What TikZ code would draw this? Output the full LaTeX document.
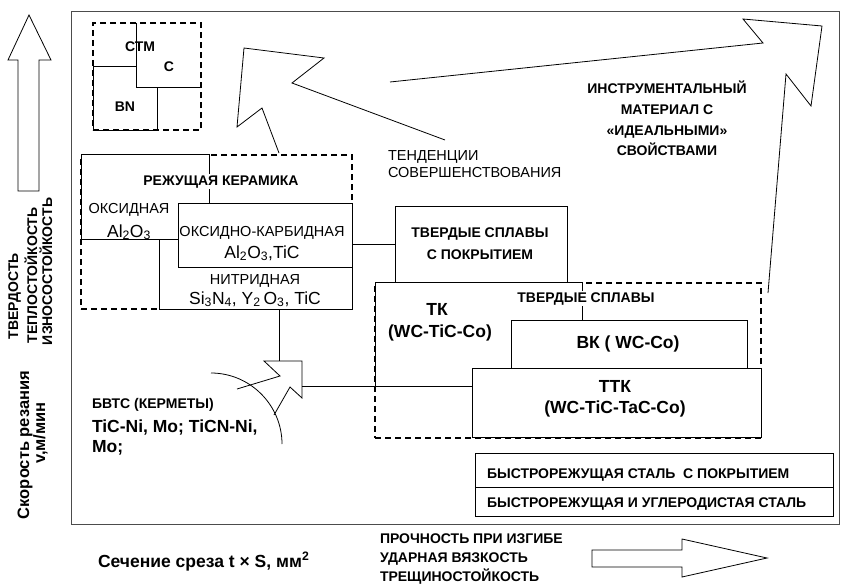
\documentclass[tikz,border=0pt]{standalone}
\usepackage{fontspec}
\setmainfont{Liberation Sans}
\begin{document}
\begin{tikzpicture}[x=1pt,y=-1pt,
  every node/.style={inner sep=0pt, outer sep=0pt},
  bx/.style={draw, fill=white, line width=0.9pt, rectangle, anchor=north west},
  dsh/.style={draw, line width=1.3pt, dash pattern=on 6pt off 4pt, rectangle, anchor=north west},
  lb/.style={font=\fontsize{14}{16}\selectfont\bfseries},
  rg/.style={font=\fontsize{14.5}{17}\selectfont},
  ch/.style={font=\fontsize{17.5}{20}\selectfont},
  bg/.style={font=\fontsize{17.5}{20}\selectfont\bfseries},
  ln/.style={line width=0.9pt},
  thin/.style={line width=0.8pt, line join=miter}
]
\useasboundingbox (0,0) rectangle (843,586);
% frame
\node[bx, draw=black!70, fill=none, minimum width=768pt, minimum height=513pt] (frame) at (71,11) {};
% left vertical arrow and labels
\draw[thin] (18,191) -- (18,60) -- (8,60) -- (29,15) -- (51,60) -- (39,60) -- (39,191) -- cycle;
\node[lb, rotate=90, anchor=base west] (tv1) at (18,339) {ТВЕРДОСТЬ};
\node[lb, rotate=90, anchor=base west] (tv2) at (37,343) {ТЕПЛОСТОЙКОСТЬ};
\node[lb, rotate=90, anchor=base west] (tv3) at (52,345) {ИЗНОСОСТОЙКОСТЬ};
\node[font=\fontsize{16.5}{19}\selectfont\bfseries, rotate=90, anchor=base] (tsp1) at (29,445) {Скорость резания};
\node[font=\fontsize{16.5}{19}\selectfont\bfseries, rotate=90, anchor=base] (tsp2) at (45,433) {v,м/мин};
% CTM block
\node[bx, minimum width=64pt, minimum height=64pt] (bn) at (93,66) {};
\node[anchor=north west, fill=white, minimum width=65pt, minimum height=64pt] (cbox) at (136,23) {};
\draw[ln] (cbox.north west) -- (cbox.south west) -- (cbox.south east);
\node[dsh, minimum width=108pt, minimum height=107pt] (ctm) at (93,23) {};
\node[lb, anchor=base] (tctm) at (140,52) {СТМ};
\node[lb, anchor=base] (tc) at (169,71) {С};
\node[lb, anchor=base] (tbn) at (125,111) {BN};
% ceramics
\node[dsh, minimum width=271pt, minimum height=154pt] (ceram) at (81,155) {};
\node[bx, minimum width=193pt, minimum height=70pt] (nitr) at (159,239) {};
\node[bx, minimum width=128pt, minimum height=85pt] (oxide) at (81,154) {};
\node[lb, anchor=base, fill=white, inner sep=1.5pt] (tceram) at (221,185) {РЕЖУЩАЯ КЕРАМИКА};
\node[bx, minimum width=174pt, minimum height=64pt] (oxcarb) at (178,203) {};
\node[rg, anchor=base] (toxide) at (129,213) {ОКСИДНАЯ};
\node[ch, anchor=base] (toxidef) at (129,237) {Al\textsubscript{2}O\textsubscript{3}};
\node[rg, anchor=base] (toxc) at (262,236) {ОКСИДНО-КАРБИДНАЯ};
\node[ch, anchor=base] (toxcf) at (262,258) {Al\textsubscript{2}O\textsubscript{3},TiC};
\node[rg, anchor=base] (tnitr) at (255,284) {НИТРИДНАЯ};
\node[ch, anchor=base] (tnitrf) at (255,304) {Si\textsubscript{3}N\textsubscript{4}, Y\textsubscript{2}\,O\textsubscript{3}, TiC};
% trend arrows
\draw[thin] (279,153) -- (262,108) -- (237,127) -- (244,48) -- (324,58) -- (292,83) -- (445,140);
\draw[thin] (390,82) -- (763,43) -- (743,19) -- (822,26) -- (811,106) -- (786,74) -- (768,293);
\node[rg, anchor=base west] (ttend1) at (388,160) {ТЕНДЕНЦИИ};
\node[rg, anchor=base west] (ttend2) at (388,177) {СОВЕРШЕНСТВОВАНИЯ};
\node[lb, anchor=base] (tid1) at (667,93) {ИНСТРУМЕНТАЛЬНЫЙ};
\node[lb, anchor=base] (tid2) at (667,114) {МАТЕРИАЛ С};
\node[lb, anchor=base] (tid3) at (667,135) {«ИДЕАЛЬНЫМИ»};
\node[lb, anchor=base] (tid4) at (667,155) {СВОЙСТВАМИ};
% coated hard alloys
\node[bx, minimum width=172pt, minimum height=76pt] (coat) at (395,206) {};
\node[lb, anchor=base] (tcoat1) at (480,237) {ТВЕРДЫЕ СПЛАВЫ};
\node[lb, anchor=base] (tcoat2) at (480,259) {С ПОКРЫТИЕМ};
\draw[ln] (oxcarb.east |- coat.west) -- (coat.west);
% hard alloys
\node[dsh, minimum width=386pt, minimum height=155pt] (tkd) at (375,283) {};
\node[bx, minimum width=207pt, minimum height=104pt] (tk) at (375,282) {};
\node[lb, anchor=base, fill=white, inner sep=1.5pt] (thard) at (586,302) {ТВЕРДЫЕ СПЛАВЫ};
\node[bx, minimum width=236pt, minimum height=48pt] (vk) at (511,320) {};
\node[bx, minimum width=289pt, minimum height=69pt] (ttk) at (472,368) {};
\node[bg, anchor=base] (ttk1) at (437,315) {ТК};
\node[bg, anchor=base] (ttk2) at (440,337) {(WC-TiC-Co)};
\node[bg, anchor=base] (tvk) at (628,348) {ВК ( WC-Co)};
\node[bg, anchor=base] (tttk1) at (615,392) {ТТК};
\node[bg, anchor=base] (tttk2) at (615,413) {(WC-TiC-TaC-Co)};
% cermets
\coordinate (ktop) at (279,361);
\coordinate (kright) at (302,386);
\draw[thin] (237,389) -- (280,376) -- (264,361) -- (302,361) -- (302,398) -- (290,387) -- (274,415);
\draw[ln] (nitr.south -| ktop) -- (ktop);
\draw[ln] (kright) -- (kright -| tk.west);
\draw[thin] (211,373) .. controls (250,373) and (282,405) .. (282,444);
\node[lb, anchor=base west] (tbvts) at (92,408) {БВТС (КЕРМЕТЫ)};
\node[bg, anchor=base west] (tbvts2) at (92,432) {TiC-Ni, Mo; TiCN-Ni,};
\node[bg, anchor=base west] (tbvts3) at (92,452) {Mo;};
% high speed steels
\node[bx, minimum width=358pt, minimum height=34pt] (hss1) at (475,453) {};
\node[bx, minimum width=358pt, minimum height=29pt] (hss2) at (475,487) {};
\node[lb, anchor=base west] (thss1) at (487,478) {БЫСТРОРЕЖУЩАЯ СТАЛЬ\ \ С ПОКРЫТИЕМ};
\node[lb, anchor=base west] (thss2) at (487,507) {БЫСТРОРЕЖУЩАЯ И УГЛЕРОДИСТАЯ СТАЛЬ};
% bottom
\node[bg, anchor=base west] (tsec) at (98,567) {Сечение среза t × S, мм\textsuperscript{2}};
\node[lb, anchor=base west] (tb1) at (380,543) {ПРОЧНОСТЬ ПРИ ИЗГИБЕ};
\node[lb, anchor=base west] (tb2) at (380,562) {УДАРНАЯ ВЯЗКОСТЬ};
\node[lb, anchor=base west] (tb3) at (380,581) {ТРЕЩИНОСТОЙКОСТЬ};
\draw[thin] (592,550) -- (682,550) -- (682,539) -- (767,558) -- (682,577) -- (682,567) -- (592,567) -- cycle;
\end{tikzpicture}
\end{document}
